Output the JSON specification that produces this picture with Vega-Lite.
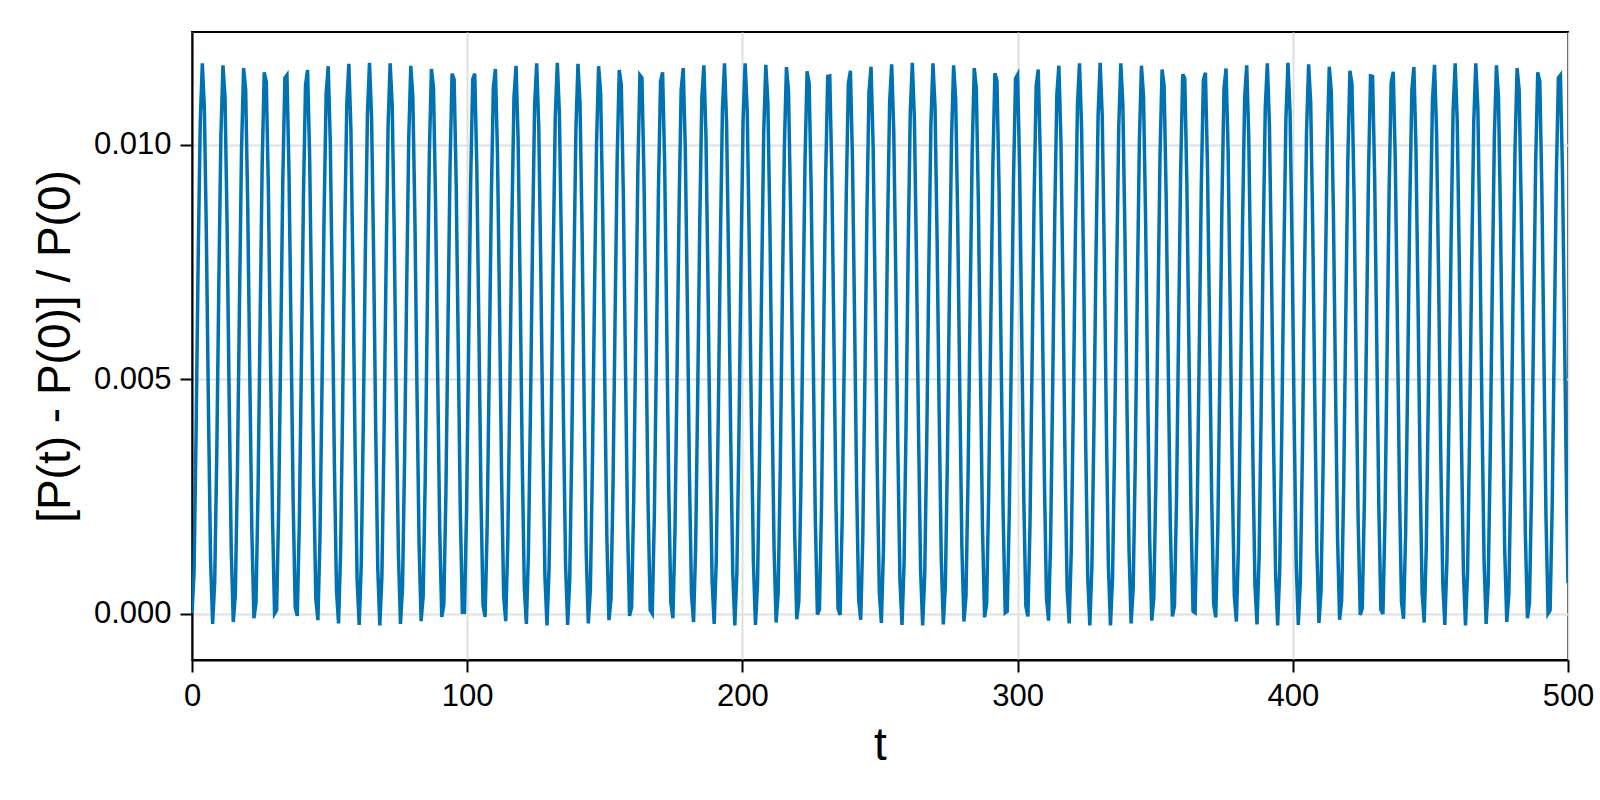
{
  "$schema": "https://vega.github.io/schema/vega-lite/v6.json",
  "width": 1376,
  "height": 628,
  "autosize": {"type": "none"},
  "padding": {"left": 192, "top": 32, "right": 32, "bottom": 140},
  "background": "white",
  "config": {
    "font": "Liberation Sans",
    "view": {"stroke": "black", "strokeWidth": 2},
    "axis": {
      "domainColor": "black",
      "domainWidth": 2,
      "tickColor": "black",
      "tickWidth": 2,
      "tickSize": 12,
      "labelFontSize": 31,
      "labelColor": "black",
      "labelPadding": 9,
      "titleFontSize": 46,
      "titleFontWeight": "normal",
      "titleColor": "black",
      "gridColor": "#e0e0e0",
      "gridWidth": 2
    }
  },
  "data": {
    "values": [
      {"t":0,"p":0},{"t":0.75,"p":0.0009},{"t":1.5,"p":0.0039},{"t":2.25,"p":0.0076},{"t":3,"p":0.01048},{"t":3.75,"p":0.01174},{"t":4.5,"p":0.01077},{"t":5.25,"p":0.00796},{"t":6,"p":0.00426},{"t":6.75,"p":0.00113},
      {"t":7.5,"p":-0.00022},{"t":8.25,"p":0.00068},{"t":9,"p":0.00338},{"t":9.75,"p":0.00703},{"t":10.5,"p":0.0102},{"t":11.25,"p":0.0117},{"t":12,"p":0.01101},{"t":12.75,"p":0.0083},{"t":13.5,"p":0.00463},{"t":14.25,"p":0.00138},
      {"t":15,"p":-0.00018},{"t":15.75,"p":0.00041},{"t":16.5,"p":0.003},{"t":17.25,"p":0.00661},{"t":18,"p":0.00991},{"t":18.75,"p":0.01164},{"t":19.5,"p":0.01118},{"t":20.25,"p":0.00869},{"t":21,"p":0.0051},{"t":21.75,"p":0.00175},
      {"t":22.5,"p":-0.0001},{"t":23.25,"p":0.00023},{"t":24,"p":0.00262},{"t":24.75,"p":0.00619},{"t":25.5,"p":0.00959},{"t":26.25,"p":0.01155},{"t":27,"p":0.01135},{"t":27.75,"p":0.00906},{"t":28.5,"p":0.00552},{"t":29.25,"p":0.00208},
      {"t":30,"p":0},{"t":30.75,"p":0.00007},{"t":31.5,"p":0.00226},{"t":32.25,"p":0.00576},{"t":33,"p":0.00926},{"t":33.75,"p":0.01143},{"t":34.5,"p":0.01149},{"t":35.25,"p":0.0094},{"t":36,"p":0.00596},{"t":36.75,"p":0.00242},
      {"t":37.5,"p":0.00014},{"t":38.25,"p":-0.00005},{"t":39,"p":0.00193},{"t":39.75,"p":0.00533},{"t":40.5,"p":0.0089},{"t":41.25,"p":0.01128},{"t":42,"p":0.0116},{"t":42.75,"p":0.00973},{"t":43.5,"p":0.00638},{"t":44.25,"p":0.00279},
      {"t":45,"p":0.00031},{"t":45.75,"p":-0.00014},{"t":46.5,"p":0.00161},{"t":47.25,"p":0.00491},{"t":48,"p":0.00852},{"t":48.75,"p":0.0111},{"t":49.5,"p":0.01168},{"t":50.25,"p":0.01004},{"t":51,"p":0.0068},{"t":51.75,"p":0.00317},
      {"t":52.5,"p":0.0005},{"t":53.25,"p":-0.00021},{"t":54,"p":0.00131},{"t":54.75,"p":0.00449},{"t":55.5,"p":0.00814},{"t":56.25,"p":0.01088},{"t":57,"p":0.01173},{"t":57.75,"p":0.01032},{"t":58.5,"p":0.00722},{"t":59.25,"p":0.00356},
      {"t":60,"p":0.00072},{"t":60.75,"p":-0.00024},{"t":61.5,"p":0.00104},{"t":62.25,"p":0.00408},{"t":63,"p":0.00774},{"t":63.75,"p":0.01066},{"t":64.5,"p":0.01175},{"t":65.25,"p":0.01059},{"t":66,"p":0.00763},{"t":66.75,"p":0.00397},
      {"t":67.5,"p":0.00097},{"t":68.25,"p":-0.00025},{"t":69,"p":0.00079},{"t":69.75,"p":0.00368},{"t":70.5,"p":0.00733},{"t":71.25,"p":0.0104},{"t":72,"p":0.01174},{"t":72.75,"p":0.01084},{"t":73.5,"p":0.00803},{"t":74.25,"p":0.00438},
      {"t":75,"p":0.0013},{"t":75.75,"p":-0.00022},{"t":76.5,"p":0.00056},{"t":77.25,"p":0.0033},{"t":78,"p":0.00692},{"t":78.75,"p":0.01012},{"t":79.5,"p":0.01169},{"t":80.25,"p":0.01102},{"t":81,"p":0.00842},{"t":81.75,"p":0.00481},
      {"t":82.5,"p":0.00153},{"t":83.25,"p":-0.00016},{"t":84,"p":0.00037},{"t":84.75,"p":0.0029},{"t":85.5,"p":0.00649},{"t":86.25,"p":0.00982},{"t":87,"p":0.01162},{"t":87.75,"p":0.01123},{"t":88.5,"p":0.0088},{"t":89.25,"p":0.00522},
      {"t":90,"p":0.00184},{"t":90.75,"p":-0.00007},{"t":91.5,"p":0.00018},{"t":92.25,"p":0.00252},{"t":93,"p":0.00607},{"t":93.75,"p":0.00949},{"t":94.5,"p":0.01152},{"t":95.25,"p":0.0114},{"t":96,"p":0.00917},{"t":96.75,"p":0.00565},
      {"t":97.5,"p":0.00217},{"t":98.25,"p":0.00003},{"t":99,"p":0.00003},{"t":99.75,"p":0.00217},{"t":100.5,"p":0.00564},{"t":101.25,"p":0.00916},{"t":102,"p":0.0114},{"t":102.75,"p":0.01152},{"t":103.5,"p":0.0095},{"t":104.25,"p":0.00607},
      {"t":105,"p":0.00252},{"t":105.75,"p":0.00018},{"t":106.5,"p":-0.00007},{"t":107.25,"p":0.00184},{"t":108,"p":0.00521},{"t":108.75,"p":0.0088},{"t":109.5,"p":0.01123},{"t":110.25,"p":0.01162},{"t":111,"p":0.00982},{"t":111.75,"p":0.0065},
      {"t":112.5,"p":0.0029},{"t":113.25,"p":0.00037},{"t":114,"p":-0.00016},{"t":114.75,"p":0.00153},{"t":115.5,"p":0.00481},{"t":116.25,"p":0.00842},{"t":117,"p":0.01102},{"t":117.75,"p":0.01169},{"t":118.5,"p":0.01012},{"t":119.25,"p":0.00692},
      {"t":120,"p":0.00329},{"t":120.75,"p":0.00056},{"t":121.5,"p":-0.00022},{"t":122.25,"p":0.0013},{"t":123,"p":0.00438},{"t":123.75,"p":0.00803},{"t":124.5,"p":0.01084},{"t":125.25,"p":0.01174},{"t":126,"p":0.0104},{"t":126.75,"p":0.00733},
      {"t":127.5,"p":0.00368},{"t":128.25,"p":0.00079},{"t":129,"p":-0.00025},{"t":129.75,"p":0.00097},{"t":130.5,"p":0.00397},{"t":131.25,"p":0.00762},{"t":132,"p":0.01059},{"t":132.75,"p":0.01175},{"t":133.5,"p":0.01066},{"t":134.25,"p":0.00774},
      {"t":135,"p":0.00408},{"t":135.75,"p":0.00104},{"t":136.5,"p":-0.00024},{"t":137.25,"p":0.00072},{"t":138,"p":0.00356},{"t":138.75,"p":0.00721},{"t":139.5,"p":0.01032},{"t":140.25,"p":0.01173},{"t":141,"p":0.01088},{"t":141.75,"p":0.00814},
      {"t":142.5,"p":0.00449},{"t":143.25,"p":0.00131},{"t":144,"p":-0.00021},{"t":144.75,"p":0.0005},{"t":145.5,"p":0.00317},{"t":146.25,"p":0.00679},{"t":147,"p":0.01004},{"t":147.75,"p":0.01168},{"t":148.5,"p":0.0111},{"t":149.25,"p":0.00852},
      {"t":150,"p":0.00491},{"t":150.75,"p":0.00161},{"t":151.5,"p":-0.00014},{"t":152.25,"p":0.00031},{"t":153,"p":0.00279},{"t":153.75,"p":0.00638},{"t":154.5,"p":0.00973},{"t":155.25,"p":0.0116},{"t":156,"p":0.01128},{"t":156.75,"p":0.0089},
      {"t":157.5,"p":0.00533},{"t":158.25,"p":0.00193},{"t":159,"p":-0.00005},{"t":159.75,"p":0.00014},{"t":160.5,"p":0.00242},{"t":161.25,"p":0.00596},{"t":162,"p":0.0094},{"t":162.75,"p":0.01149},{"t":163.5,"p":0.01143},{"t":164.25,"p":0.00926},
      {"t":165,"p":0.00576},{"t":165.75,"p":0.00226},{"t":166.5,"p":0.00007},{"t":167.25,"p":0},{"t":168,"p":0.00208},{"t":168.75,"p":0.00552},{"t":169.5,"p":0.00906},{"t":170.25,"p":0.01135},{"t":171,"p":0.01155},{"t":171.75,"p":0.00959},
      {"t":172.5,"p":0.00619},{"t":173.25,"p":0.00262},{"t":174,"p":0.00023},{"t":174.75,"p":-0.0001},{"t":175.5,"p":0.00175},{"t":176.25,"p":0.0051},{"t":177,"p":0.00869},{"t":177.75,"p":0.01118},{"t":178.5,"p":0.01164},{"t":179.25,"p":0.00991},
      {"t":180,"p":0.00661},{"t":180.75,"p":0.003},{"t":181.5,"p":0.00041},{"t":182.25,"p":-0.00018},{"t":183,"p":0.00138},{"t":183.75,"p":0.00463},{"t":184.5,"p":0.0083},{"t":185.25,"p":0.01099},{"t":186,"p":0.0117},{"t":186.75,"p":0.0102},
      {"t":187.5,"p":0.00703},{"t":188.25,"p":0.00338},{"t":189,"p":0.00068},{"t":189.75,"p":-0.00022},{"t":190.5,"p":0.00113},{"t":191.25,"p":0.00426},{"t":192,"p":0.00793},{"t":192.75,"p":0.01077},{"t":193.5,"p":0.01174},{"t":194.25,"p":0.01048},
      {"t":195,"p":0.00745},{"t":195.75,"p":0.00379},{"t":196.5,"p":0.00086},{"t":197.25,"p":-0.00025},{"t":198,"p":0.00089},{"t":198.75,"p":0.00385},{"t":199.5,"p":0.00751},{"t":200.25,"p":0.01052},{"t":201,"p":0.01174},{"t":201.75,"p":0.01073},
      {"t":202.5,"p":0.00786},{"t":203.25,"p":0.00419},{"t":204,"p":0.00109},{"t":204.75,"p":-0.00024},{"t":205.5,"p":0.00065},{"t":206.25,"p":0.00343},{"t":207,"p":0.00709},{"t":207.75,"p":0.01027},{"t":208.5,"p":0.01171},{"t":209.25,"p":0.01092},
      {"t":210,"p":0.00824},{"t":210.75,"p":0.00461},{"t":211.5,"p":0.0014},{"t":212.25,"p":-0.00019},{"t":213,"p":0.00044},{"t":213.75,"p":0.00306},{"t":214.5,"p":0.00668},{"t":215.25,"p":0.00996},{"t":216,"p":0.01166},{"t":216.75,"p":0.01116},
      {"t":217.5,"p":0.00863},{"t":218.25,"p":0.00503},{"t":219,"p":0.0017},{"t":219.75,"p":-0.00012},{"t":220.5,"p":0.00026},{"t":221.25,"p":0.00268},{"t":222,"p":0.00626},{"t":222.75,"p":0.00965},{"t":223.5,"p":0.01157},{"t":224.25,"p":0.01133},
      {"t":225,"p":0.009},{"t":225.75,"p":0.00546},{"t":226.5,"p":0.00202},{"t":227.25,"p":-0.00002},{"t":228,"p":0.00009},{"t":228.75,"p":0.00231},{"t":229.5,"p":0.00583},{"t":230.25,"p":0.00931},{"t":231,"p":0.01146},{"t":231.75,"p":0.01147},
      {"t":232.5,"p":0.00935},{"t":233.25,"p":0.00588},{"t":234,"p":0.00236},{"t":234.75,"p":0.00011},{"t":235.5,"p":-0.00003},{"t":236.25,"p":0.00199},{"t":237,"p":0.0054},{"t":237.75,"p":0.00896},{"t":238.5,"p":0.01131},{"t":239.25,"p":0.01158},
      {"t":240,"p":0.00968},{"t":240.75,"p":0.00637},{"t":241.5,"p":0.00276},{"t":242.25,"p":0.00029},{"t":243,"p":-0.00013},{"t":243.75,"p":0.00165},{"t":244.5,"p":0.00498},{"t":245.25,"p":0.00858},{"t":246,"p":0.01113},{"t":246.75,"p":0.01167},
      {"t":247.5,"p":0.00998},{"t":248.25,"p":0.00674},{"t":249,"p":0.0031},{"t":249.75,"p":0.00046},{"t":250.5,"p":-0.0002},{"t":251.25,"p":0.00136},{"t":252,"p":0.00456},{"t":252.75,"p":0.0082},{"t":253.5,"p":0.01091},{"t":254.25,"p":0.01172},
      {"t":255,"p":0.01029},{"t":255.75,"p":0.00716},{"t":256.5,"p":0.00349},{"t":257.25,"p":0.0007},{"t":258,"p":-0.00024},{"t":258.75,"p":0.00108},{"t":259.5,"p":0.00414},{"t":260.25,"p":0.00781},{"t":261,"p":0.0107},{"t":261.75,"p":0.01175},
      {"t":262.5,"p":0.01055},{"t":263.25,"p":0.00756},{"t":264,"p":0.0039},{"t":264.75,"p":0.00093},{"t":265.5,"p":-0.00025},{"t":266.25,"p":0.00082},{"t":267,"p":0.00373},{"t":267.75,"p":0.0074},{"t":268.5,"p":0.01045},{"t":269.25,"p":0.01174},
      {"t":270,"p":0.0108},{"t":270.75,"p":0.00797},{"t":271.5,"p":0.0043},{"t":272.25,"p":0.00119},{"t":273,"p":-0.00023},{"t":273.75,"p":0.0006},{"t":274.5,"p":0.00334},{"t":275.25,"p":0.00698},{"t":276,"p":0.01016},{"t":276.75,"p":0.0117},
      {"t":277.5,"p":0.01098},{"t":278.25,"p":0.00835},{"t":279,"p":0.00474},{"t":279.75,"p":0.00142},{"t":280.5,"p":-0.00017},{"t":281.25,"p":0.00038},{"t":282,"p":0.00295},{"t":282.75,"p":0.00656},{"t":283.5,"p":0.00987},{"t":284.25,"p":0.01164},
      {"t":285,"p":0.01121},{"t":285.75,"p":0.00874},{"t":286.5,"p":0.00515},{"t":287.25,"p":0.0018},{"t":288,"p":-0.00008},{"t":288.75,"p":0.00021},{"t":289.5,"p":0.00258},{"t":290.25,"p":0.00614},{"t":291,"p":0.00953},{"t":291.75,"p":0.01153},
      {"t":292.5,"p":0.01137},{"t":293.25,"p":0.00911},{"t":294,"p":0.00558},{"t":294.75,"p":0.00212},{"t":295.5,"p":0.00002},{"t":296.25,"p":0.00005},{"t":297,"p":0.00222},{"t":297.75,"p":0.00571},{"t":298.5,"p":0.00921},{"t":299.25,"p":0.01142},
      {"t":300,"p":0.0115},{"t":300.75,"p":0.00945},{"t":301.5,"p":0.00601},{"t":302.25,"p":0.00247},{"t":303,"p":0.00016},{"t":303.75,"p":-0.00006},{"t":304.5,"p":0.00189},{"t":305.25,"p":0.00528},{"t":306,"p":0.00885},{"t":306.75,"p":0.01126},
      {"t":307.5,"p":0.01161},{"t":308.25,"p":0.00977},{"t":309,"p":0.00643},{"t":309.75,"p":0.00283},{"t":310.5,"p":0.00033},{"t":311.25,"p":-0.00015},{"t":312,"p":0.00157},{"t":312.75,"p":0.00486},{"t":313.5,"p":0.00847},{"t":314.25,"p":0.01106},
      {"t":315,"p":0.01169},{"t":315.75,"p":0.01008},{"t":316.5,"p":0.00685},{"t":317.25,"p":0.00322},{"t":318,"p":0.00052},{"t":318.75,"p":-0.00021},{"t":319.5,"p":0.00134},{"t":320.25,"p":0.00443},{"t":321,"p":0.00808},{"t":321.75,"p":0.01085},
      {"t":322.5,"p":0.01174},{"t":323.25,"p":0.01036},{"t":324,"p":0.00727},{"t":324.75,"p":0.00361},{"t":325.5,"p":0.00075},{"t":326.25,"p":-0.00025},{"t":327,"p":0.00101},{"t":327.75,"p":0.00403},{"t":328.5,"p":0.00769},{"t":329.25,"p":0.01063},
      {"t":330,"p":0.01175},{"t":330.75,"p":0.01062},{"t":331.5,"p":0.00768},{"t":332.25,"p":0.00402},{"t":333,"p":0.001},{"t":333.75,"p":-0.00025},{"t":334.5,"p":0.00076},{"t":335.25,"p":0.00362},{"t":336,"p":0.00728},{"t":336.75,"p":0.01037},
      {"t":337.5,"p":0.01174},{"t":338.25,"p":0.01086},{"t":339,"p":0.00807},{"t":339.75,"p":0.00442},{"t":340.5,"p":0.00134},{"t":341.25,"p":-0.00021},{"t":342,"p":0.00053},{"t":342.75,"p":0.00323},{"t":343.5,"p":0.00686},{"t":344.25,"p":0.01009},
      {"t":345,"p":0.01169},{"t":345.75,"p":0.01105},{"t":346.5,"p":0.00846},{"t":347.25,"p":0.00485},{"t":348,"p":0.00156},{"t":348.75,"p":-0.00015},{"t":349.5,"p":0.00034},{"t":350.25,"p":0.00284},{"t":351,"p":0.00644},{"t":351.75,"p":0.00978},
      {"t":352.5,"p":0.01161},{"t":353.25,"p":0.01126},{"t":354,"p":0.00884},{"t":354.75,"p":0.00527},{"t":355.5,"p":0.00189},{"t":356.25,"p":-0.00006},{"t":357,"p":0.00016},{"t":357.75,"p":0.00247},{"t":358.5,"p":0.00602},{"t":359.25,"p":0.00945},
      {"t":360,"p":0.01151},{"t":360.75,"p":0.01142},{"t":361.5,"p":0.0092},{"t":362.25,"p":0.0057},{"t":363,"p":0.00221},{"t":363.75,"p":0.00005},{"t":364.5,"p":0.00002},{"t":365.25,"p":0.00213},{"t":366,"p":0.00559},{"t":366.75,"p":0.00911},
      {"t":367.5,"p":0.01138},{"t":368.25,"p":0.01154},{"t":369,"p":0.00953},{"t":369.75,"p":0.00613},{"t":370.5,"p":0.00257},{"t":371.25,"p":0.0002},{"t":372,"p":-0.00008},{"t":372.75,"p":0.0018},{"t":373.5,"p":0.00516},{"t":374.25,"p":0.00874},
      {"t":375,"p":0.01121},{"t":375.75,"p":0.01163},{"t":376.5,"p":0.00986},{"t":377.25,"p":0.00655},{"t":378,"p":0.00294},{"t":378.75,"p":0.00038},{"t":379.5,"p":-0.00017},{"t":380.25,"p":0.00142},{"t":381,"p":0.00474},{"t":381.75,"p":0.00836},
      {"t":382.5,"p":0.01099},{"t":383.25,"p":0.0117},{"t":384,"p":0.01015},{"t":384.75,"p":0.00697},{"t":385.5,"p":0.00332},{"t":386.25,"p":0.0006},{"t":387,"p":-0.00023},{"t":387.75,"p":0.00119},{"t":388.5,"p":0.00431},{"t":389.25,"p":0.00798},
      {"t":390,"p":0.0108},{"t":390.75,"p":0.01174},{"t":391.5,"p":0.01044},{"t":392.25,"p":0.00738},{"t":393,"p":0.00372},{"t":393.75,"p":0.00082},{"t":394.5,"p":-0.00025},{"t":395.25,"p":0.00093},{"t":396,"p":0.00391},{"t":396.75,"p":0.00757},
      {"t":397.5,"p":0.01056},{"t":398.25,"p":0.01175},{"t":399,"p":0.01069},{"t":399.75,"p":0.0078},{"t":400.5,"p":0.00413},{"t":401.25,"p":0.00107},{"t":402,"p":-0.00024},{"t":402.75,"p":0.0007},{"t":403.5,"p":0.0035},{"t":404.25,"p":0.00716},
      {"t":405,"p":0.0103},{"t":405.75,"p":0.01172},{"t":406.5,"p":0.01091},{"t":407.25,"p":0.00819},{"t":408,"p":0.00455},{"t":408.75,"p":0.00136},{"t":409.5,"p":-0.0002},{"t":410.25,"p":0.00047},{"t":411,"p":0.00312},{"t":411.75,"p":0.00675},
      {"t":412.5,"p":0.01},{"t":413.25,"p":0.01167},{"t":414,"p":0.01113},{"t":414.75,"p":0.00857},{"t":415.5,"p":0.00497},{"t":416.25,"p":0.00165},{"t":417,"p":-0.00013},{"t":417.75,"p":0.00028},{"t":418.5,"p":0.00275},{"t":419.25,"p":0.00633},
      {"t":420,"p":0.00969},{"t":420.75,"p":0.01158},{"t":421.5,"p":0.01131},{"t":422.25,"p":0.00895},{"t":423,"p":0.00539},{"t":423.75,"p":0.00198},{"t":424.5,"p":-0.00003},{"t":425.25,"p":0.00012},{"t":426,"p":0.00237},{"t":426.75,"p":0.0059},
      {"t":427.5,"p":0.00936},{"t":428.25,"p":0.01147},{"t":429,"p":0.01146},{"t":429.75,"p":0.0093},{"t":430.5,"p":0.00582},{"t":431.25,"p":0.00231},{"t":432,"p":0.00008},{"t":432.75,"p":-0.00001},{"t":433.5,"p":0.00203},{"t":434.25,"p":0.00547},
      {"t":435,"p":0.00901},{"t":435.75,"p":0.01133},{"t":436.5,"p":0.01156},{"t":437.25,"p":0.00963},{"t":438,"p":0.00625},{"t":438.75,"p":0.00267},{"t":439.5,"p":0.00025},{"t":440.25,"p":-0.00011},{"t":441,"p":0.00171},{"t":441.75,"p":0.00505},
      {"t":442.5,"p":0.00864},{"t":443.25,"p":0.01116},{"t":444,"p":0.01166},{"t":444.75,"p":0.00995},{"t":445.5,"p":0.00667},{"t":446.25,"p":0.00305},{"t":447,"p":0.00044},{"t":447.75,"p":-0.00019},{"t":448.5,"p":0.00141},{"t":449.25,"p":0.00462},
      {"t":450,"p":0.00826},{"t":450.75,"p":0.01095},{"t":451.5,"p":0.01171},{"t":452.25,"p":0.01026},{"t":453,"p":0.00709},{"t":453.75,"p":0.00343},{"t":454.5,"p":0.00065},{"t":455.25,"p":-0.00024},{"t":456,"p":0.00111},{"t":456.75,"p":0.0042},
      {"t":457.5,"p":0.00786},{"t":458.25,"p":0.01073},{"t":459,"p":0.01174},{"t":459.75,"p":0.01051},{"t":460.5,"p":0.0075},{"t":461.25,"p":0.00384},{"t":462,"p":0.00089},{"t":462.75,"p":-0.00025},{"t":463.5,"p":0.00086},{"t":464.25,"p":0.0038},
      {"t":465,"p":0.00746},{"t":465.75,"p":0.01048},{"t":466.5,"p":0.01174},{"t":467.25,"p":0.01077},{"t":468,"p":0.00791},{"t":468.75,"p":0.00425},{"t":469.5,"p":0.00113},{"t":470.25,"p":-0.00022},{"t":471,"p":0.00063},{"t":471.75,"p":0.00342},
      {"t":472.5,"p":0.00705},{"t":473.25,"p":0.01021},{"t":474,"p":0.0117},{"t":474.75,"p":0.011},{"t":475.5,"p":0.00829},{"t":476.25,"p":0.00467},{"t":477,"p":0.00137},{"t":477.75,"p":-0.00018},{"t":478.5,"p":0.00042},{"t":479.25,"p":0.00301},
      {"t":480,"p":0.00662},{"t":480.75,"p":0.00993},{"t":481.5,"p":0.01164},{"t":482.25,"p":0.01118},{"t":483,"p":0.00868},{"t":483.75,"p":0.00509},{"t":484.5,"p":0.00174},{"t":485.25,"p":-0.0001},{"t":486,"p":0.00023},{"t":486.75,"p":0.00263},
      {"t":487.5,"p":0.0062},{"t":488.25,"p":0.0096},{"t":489,"p":0.01155},{"t":489.75,"p":0.01135},{"t":490.5,"p":0.00905},{"t":491.25,"p":0.00551},{"t":492,"p":0.00207},{"t":492.75,"p":0},{"t":493.5,"p":0.00007},{"t":494.25,"p":0.00227},
      {"t":495,"p":0.00578},{"t":495.75,"p":0.00927},{"t":496.5,"p":0.01143},{"t":497.25,"p":0.01149},{"t":498,"p":0.00939},{"t":498.75,"p":0.00594},{"t":499.5,"p":0.0024},{"t":500,"p":0.00065}
    ]
  },
  "mark": {"type": "line", "color": "#0072b2", "strokeWidth": 3.5, "clip": true},
  "encoding": {
    "x": {
      "field": "t",
      "type": "quantitative",
      "scale": {"domain": [0, 500], "nice": false, "zero": false},
      "axis": {"values": [0, 100, 200, 300, 400, 500], "format": "d", "title": "t", "titlePadding": 12, "labelFlush": false}
    },
    "y": {
      "field": "p",
      "type": "quantitative",
      "scale": {"domain": [-0.00099, 0.01241], "nice": false, "zero": false},
      "axis": {"values": [0, 0.005, 0.01], "format": ".3f", "title": "[P(t) - P(0)] / P(0)", "titlePadding": 14}
    }
  }
}
